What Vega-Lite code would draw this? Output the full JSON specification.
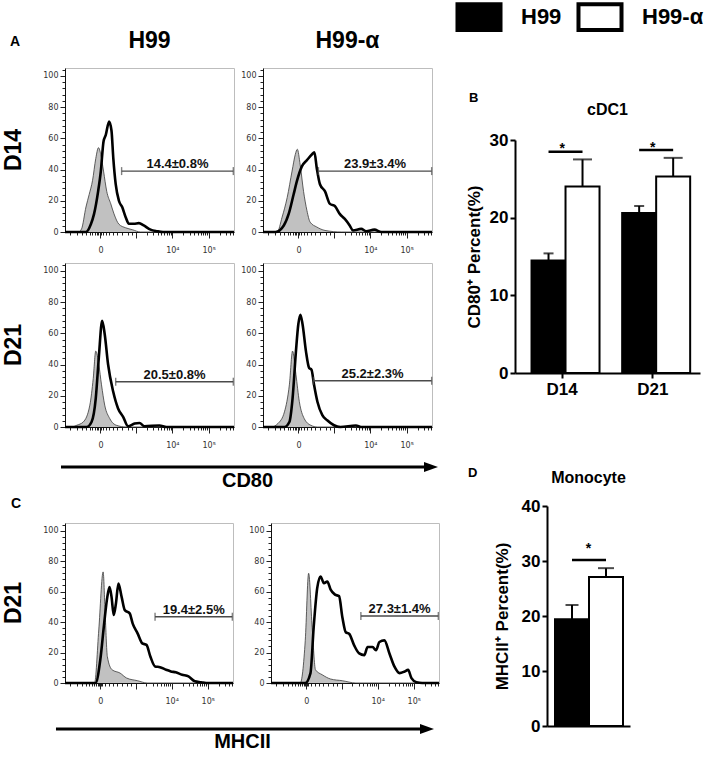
{
  "$schema": "https://vega.github.io/schema/vega-lite/v6.json",
  "padding": {"left": 2, "top": 2, "right": 2, "bottom": 0},
  "background": "white",
  "config": {
    "font": "Liberation Sans",
    "view": {"stroke": "#bdbdbd", "strokeWidth": 1},
    "axis": {"grid": false},
    "title": {"color": "black"}
  },
  "datasets": {
    "cd80": [
      {"group":"H99","day":"D14","kind":"ctrl","x":0,"y":0},{"group":"H99","day":"D14","kind":"ctrl","x":8,"y":0},{"group":"H99","day":"D14","kind":"ctrl","x":9.8,"y":2},{"group":"H99","day":"D14","kind":"ctrl","x":12.4,"y":16},{"group":"H99","day":"D14","kind":"ctrl","x":14.3,"y":24},{"group":"H99","day":"D14","kind":"ctrl","x":16.3,"y":33},{"group":"H99","day":"D14","kind":"ctrl","x":18.2,"y":47},{"group":"H99","day":"D14","kind":"ctrl","x":19.8,"y":54},{"group":"H99","day":"D14","kind":"ctrl","x":21.2,"y":49.5},{"group":"H99","day":"D14","kind":"ctrl","x":22.8,"y":39},{"group":"H99","day":"D14","kind":"ctrl","x":24.7,"y":26},{"group":"H99","day":"D14","kind":"ctrl","x":27.1,"y":18},{"group":"H99","day":"D14","kind":"ctrl","x":29,"y":11.6},{"group":"H99","day":"D14","kind":"ctrl","x":31.9,"y":5},{"group":"H99","day":"D14","kind":"ctrl","x":35.9,"y":2.7},{"group":"H99","day":"D14","kind":"ctrl","x":39.8,"y":1.5},{"group":"H99","day":"D14","kind":"ctrl","x":44.7,"y":0},{"group":"H99","day":"D14","kind":"ctrl","x":100,"y":0},
      {"group":"H99","day":"D14","kind":"samp","x":0,"y":0},{"group":"H99","day":"D14","kind":"samp","x":12.4,"y":0},{"group":"H99","day":"D14","kind":"samp","x":15.3,"y":5},{"group":"H99","day":"D14","kind":"samp","x":17.2,"y":11.6},{"group":"H99","day":"D14","kind":"samp","x":19.6,"y":26},{"group":"H99","day":"D14","kind":"samp","x":21.2,"y":39},{"group":"H99","day":"D14","kind":"samp","x":22.8,"y":58},{"group":"H99","day":"D14","kind":"samp","x":24.1,"y":62},{"group":"H99","day":"D14","kind":"samp","x":26.1,"y":70.7},{"group":"H99","day":"D14","kind":"samp","x":27.5,"y":65},{"group":"H99","day":"D14","kind":"samp","x":28.6,"y":47},{"group":"H99","day":"D14","kind":"samp","x":30,"y":30.6},{"group":"H99","day":"D14","kind":"samp","x":31.9,"y":20},{"group":"H99","day":"D14","kind":"samp","x":33.9,"y":15.8},{"group":"H99","day":"D14","kind":"samp","x":35.9,"y":9.5},{"group":"H99","day":"D14","kind":"samp","x":37.8,"y":5.3},{"group":"H99","day":"D14","kind":"samp","x":40.8,"y":5.3},{"group":"H99","day":"D14","kind":"samp","x":43.7,"y":5.7},{"group":"H99","day":"D14","kind":"samp","x":46.6,"y":4.2},{"group":"H99","day":"D14","kind":"samp","x":50.6,"y":1.5},{"group":"H99","day":"D14","kind":"samp","x":54.5,"y":0.5},{"group":"H99","day":"D14","kind":"samp","x":58,"y":0},{"group":"H99","day":"D14","kind":"samp","x":100,"y":0},
      {"group":"H99-α","day":"D14","kind":"ctrl","x":0,"y":0},{"group":"H99-α","day":"D14","kind":"ctrl","x":8.4,"y":0},{"group":"H99-α","day":"D14","kind":"ctrl","x":11.3,"y":9.5},{"group":"H99-α","day":"D14","kind":"ctrl","x":14.3,"y":22},{"group":"H99-α","day":"D14","kind":"ctrl","x":17.2,"y":39},{"group":"H99-α","day":"D14","kind":"ctrl","x":19.1,"y":49.6},{"group":"H99-α","day":"D14","kind":"ctrl","x":20.3,"y":53},{"group":"H99-α","day":"D14","kind":"ctrl","x":22,"y":43},{"group":"H99-α","day":"D14","kind":"ctrl","x":24,"y":26},{"group":"H99-α","day":"D14","kind":"ctrl","x":26,"y":13.7},{"group":"H99-α","day":"D14","kind":"ctrl","x":27.9,"y":6.3},{"group":"H99-α","day":"D14","kind":"ctrl","x":31.8,"y":3.2},{"group":"H99-α","day":"D14","kind":"ctrl","x":36.7,"y":1},{"group":"H99-α","day":"D14","kind":"ctrl","x":46.4,"y":0},{"group":"H99-α","day":"D14","kind":"ctrl","x":100,"y":0},
      {"group":"H99-α","day":"D14","kind":"samp","x":0,"y":0},{"group":"H99-α","day":"D14","kind":"samp","x":7.4,"y":0},{"group":"H99-α","day":"D14","kind":"samp","x":12.3,"y":4.2},{"group":"H99-α","day":"D14","kind":"samp","x":15.2,"y":11.6},{"group":"H99-α","day":"D14","kind":"samp","x":18.1,"y":24},{"group":"H99-α","day":"D14","kind":"samp","x":20.1,"y":32.7},{"group":"H99-α","day":"D14","kind":"samp","x":23,"y":42},{"group":"H99-α","day":"D14","kind":"samp","x":26,"y":46},{"group":"H99-α","day":"D14","kind":"samp","x":28.9,"y":49.6},{"group":"H99-α","day":"D14","kind":"samp","x":30.4,"y":51},{"group":"H99-α","day":"D14","kind":"samp","x":31.8,"y":41},{"group":"H99-α","day":"D14","kind":"samp","x":33.7,"y":30.6},{"group":"H99-α","day":"D14","kind":"samp","x":36.7,"y":26},{"group":"H99-α","day":"D14","kind":"samp","x":39.6,"y":18},{"group":"H99-α","day":"D14","kind":"samp","x":42.5,"y":16.6},{"group":"H99-α","day":"D14","kind":"samp","x":45.4,"y":11.6},{"group":"H99-α","day":"D14","kind":"samp","x":48.4,"y":8.4},{"group":"H99-α","day":"D14","kind":"samp","x":51.3,"y":4.2},{"group":"H99-α","day":"D14","kind":"samp","x":53.2,"y":1},{"group":"H99-α","day":"D14","kind":"samp","x":58.1,"y":2},{"group":"H99-α","day":"D14","kind":"samp","x":61,"y":0.5},{"group":"H99-α","day":"D14","kind":"samp","x":65.9,"y":1.5},{"group":"H99-α","day":"D14","kind":"samp","x":70,"y":0},{"group":"H99-α","day":"D14","kind":"samp","x":100,"y":0},
      {"group":"H99","day":"D21","kind":"ctrl","x":0,"y":0},{"group":"H99","day":"D21","kind":"ctrl","x":4,"y":0},{"group":"H99","day":"D21","kind":"ctrl","x":6.9,"y":1.1},{"group":"H99","day":"D21","kind":"ctrl","x":10.8,"y":3.2},{"group":"H99","day":"D21","kind":"ctrl","x":14.7,"y":14},{"group":"H99","day":"D21","kind":"ctrl","x":16.7,"y":31},{"group":"H99","day":"D21","kind":"ctrl","x":18.2,"y":48.6},{"group":"H99","day":"D21","kind":"ctrl","x":20,"y":40},{"group":"H99","day":"D21","kind":"ctrl","x":21.6,"y":27},{"group":"H99","day":"D21","kind":"ctrl","x":23.5,"y":14},{"group":"H99","day":"D21","kind":"ctrl","x":26.5,"y":5.4},{"group":"H99","day":"D21","kind":"ctrl","x":30.4,"y":1.1},{"group":"H99","day":"D21","kind":"ctrl","x":36.3,"y":0},{"group":"H99","day":"D21","kind":"ctrl","x":100,"y":0},
      {"group":"H99","day":"D21","kind":"samp","x":0,"y":0},{"group":"H99","day":"D21","kind":"samp","x":12.8,"y":0},{"group":"H99","day":"D21","kind":"samp","x":15.7,"y":3.2},{"group":"H99","day":"D21","kind":"samp","x":18.2,"y":18.4},{"group":"H99","day":"D21","kind":"samp","x":20,"y":44.3},{"group":"H99","day":"D21","kind":"samp","x":22,"y":68},{"group":"H99","day":"D21","kind":"samp","x":23.5,"y":59.4},{"group":"H99","day":"D21","kind":"samp","x":25.5,"y":40},{"group":"H99","day":"D21","kind":"samp","x":28.5,"y":22.7},{"group":"H99","day":"D21","kind":"samp","x":31.4,"y":11.9},{"group":"H99","day":"D21","kind":"samp","x":34.4,"y":6.5},{"group":"H99","day":"D21","kind":"samp","x":37.3,"y":0.5},{"group":"H99","day":"D21","kind":"samp","x":41.2,"y":2.2},{"group":"H99","day":"D21","kind":"samp","x":44.1,"y":2.6},{"group":"H99","day":"D21","kind":"samp","x":47,"y":0.5},{"group":"H99","day":"D21","kind":"samp","x":55.9,"y":1},{"group":"H99","day":"D21","kind":"samp","x":60,"y":0},{"group":"H99","day":"D21","kind":"samp","x":100,"y":0},
      {"group":"H99-α","day":"D21","kind":"ctrl","x":0,"y":0},{"group":"H99-α","day":"D21","kind":"ctrl","x":4.9,"y":0},{"group":"H99-α","day":"D21","kind":"ctrl","x":8.8,"y":2.2},{"group":"H99-α","day":"D21","kind":"ctrl","x":12.7,"y":9.7},{"group":"H99-α","day":"D21","kind":"ctrl","x":15.6,"y":27},{"group":"H99-α","day":"D21","kind":"ctrl","x":17.5,"y":48.6},{"group":"H99-α","day":"D21","kind":"ctrl","x":19.5,"y":33.5},{"group":"H99-α","day":"D21","kind":"ctrl","x":21.5,"y":16.2},{"group":"H99-α","day":"D21","kind":"ctrl","x":24.4,"y":5.4},{"group":"H99-α","day":"D21","kind":"ctrl","x":28.3,"y":1.1},{"group":"H99-α","day":"D21","kind":"ctrl","x":32.2,"y":0},{"group":"H99-α","day":"D21","kind":"ctrl","x":100,"y":0},
      {"group":"H99-α","day":"D21","kind":"samp","x":0,"y":0},{"group":"H99-α","day":"D21","kind":"samp","x":12.7,"y":0},{"group":"H99-α","day":"D21","kind":"samp","x":15.6,"y":3.2},{"group":"H99-α","day":"D21","kind":"samp","x":17.5,"y":18.4},{"group":"H99-α","day":"D21","kind":"samp","x":19.5,"y":48.6},{"group":"H99-α","day":"D21","kind":"samp","x":20.9,"y":65.8},{"group":"H99-α","day":"D21","kind":"samp","x":22.1,"y":71.9},{"group":"H99-α","day":"D21","kind":"samp","x":23.4,"y":65.8},{"group":"H99-α","day":"D21","kind":"samp","x":25.4,"y":48.6},{"group":"H99-α","day":"D21","kind":"samp","x":27.3,"y":37.8},{"group":"H99-α","day":"D21","kind":"samp","x":28.7,"y":36.7},{"group":"H99-α","day":"D21","kind":"samp","x":30.2,"y":27},{"group":"H99-α","day":"D21","kind":"samp","x":32.2,"y":16.2},{"group":"H99-α","day":"D21","kind":"samp","x":35.1,"y":7.6},{"group":"H99-α","day":"D21","kind":"samp","x":38,"y":4.3},{"group":"H99-α","day":"D21","kind":"samp","x":42,"y":1.1},{"group":"H99-α","day":"D21","kind":"samp","x":45.8,"y":0},{"group":"H99-α","day":"D21","kind":"samp","x":55,"y":1},{"group":"H99-α","day":"D21","kind":"samp","x":58,"y":0},{"group":"H99-α","day":"D21","kind":"samp","x":100,"y":0},
      {"group":"H99","day":"D14","kind":"gate","x":33.5,"x2":99.6,"y":39,"label":"14.4±0.8%"},
      {"group":"H99-α","day":"D14","kind":"gate","x":32.8,"x2":99.8,"y":39,"label":"23.9±3.4%"},
      {"group":"H99","day":"D21","kind":"gate","x":30,"x2":99.6,"y":29,"label":"20.5±0.8%"},
      {"group":"H99-α","day":"D21","kind":"gate","x":29.8,"x2":99.8,"y":29.6,"label":"25.2±2.3%"}
    ],
    "mhc": [
      {"group":"H99","day":"D21","kind":"ctrl","x":0,"y":0},{"group":"H99","day":"D21","kind":"ctrl","x":17.6,"y":0},{"group":"H99","day":"D21","kind":"ctrl","x":20.1,"y":34.8},{"group":"H99","day":"D21","kind":"ctrl","x":22.7,"y":72.9},{"group":"H99","day":"D21","kind":"ctrl","x":23.9,"y":45.7},{"group":"H99","day":"D21","kind":"ctrl","x":25.2,"y":17.4},{"group":"H99","day":"D21","kind":"ctrl","x":28,"y":8.7},{"group":"H99","day":"D21","kind":"ctrl","x":32.8,"y":6.5},{"group":"H99","day":"D21","kind":"ctrl","x":36.6,"y":3.3},{"group":"H99","day":"D21","kind":"ctrl","x":43.2,"y":1.5},{"group":"H99","day":"D21","kind":"ctrl","x":48.9,"y":0},{"group":"H99","day":"D21","kind":"ctrl","x":100,"y":0},
      {"group":"H99","day":"D21","kind":"samp","x":0,"y":0},{"group":"H99","day":"D21","kind":"samp","x":18.2,"y":0},{"group":"H99","day":"D21","kind":"samp","x":21,"y":15.2},{"group":"H99","day":"D21","kind":"samp","x":23.3,"y":39},{"group":"H99","day":"D21","kind":"samp","x":25.2,"y":56.5},{"group":"H99","day":"D21","kind":"samp","x":26.5,"y":63},{"group":"H99","day":"D21","kind":"samp","x":27.7,"y":56.5},{"group":"H99","day":"D21","kind":"samp","x":29,"y":44.6},{"group":"H99","day":"D21","kind":"samp","x":30.3,"y":52},{"group":"H99","day":"D21","kind":"samp","x":31.8,"y":65.2},{"group":"H99","day":"D21","kind":"samp","x":33.7,"y":56.5},{"group":"H99","day":"D21","kind":"samp","x":35.6,"y":47.8},{"group":"H99","day":"D21","kind":"samp","x":38.5,"y":45.7},{"group":"H99","day":"D21","kind":"samp","x":40.3,"y":39},{"group":"H99","day":"D21","kind":"samp","x":43.2,"y":32.6},{"group":"H99","day":"D21","kind":"samp","x":46,"y":26},{"group":"H99","day":"D21","kind":"samp","x":48.5,"y":25},{"group":"H99","day":"D21","kind":"samp","x":50.8,"y":17.4},{"group":"H99","day":"D21","kind":"samp","x":53.6,"y":10.9},{"group":"H99","day":"D21","kind":"samp","x":56.5,"y":10.4},{"group":"H99","day":"D21","kind":"samp","x":60.2,"y":8.7},{"group":"H99","day":"D21","kind":"samp","x":63,"y":7.6},{"group":"H99","day":"D21","kind":"samp","x":65.9,"y":7},{"group":"H99","day":"D21","kind":"samp","x":69.7,"y":5.4},{"group":"H99","day":"D21","kind":"samp","x":73.5,"y":4.3},{"group":"H99","day":"D21","kind":"samp","x":77.3,"y":1.1},{"group":"H99","day":"D21","kind":"samp","x":81,"y":0.5},{"group":"H99","day":"D21","kind":"samp","x":84,"y":0},{"group":"H99","day":"D21","kind":"samp","x":100,"y":0},
      {"group":"H99-α","day":"D21","kind":"ctrl","x":0,"y":0},{"group":"H99-α","day":"D21","kind":"ctrl","x":17.4,"y":0},{"group":"H99-α","day":"D21","kind":"ctrl","x":20.4,"y":28},{"group":"H99-α","day":"D21","kind":"ctrl","x":22.4,"y":72},{"group":"H99-α","day":"D21","kind":"ctrl","x":24.5,"y":36.5},{"group":"H99-α","day":"D21","kind":"ctrl","x":26.5,"y":8.6},{"group":"H99-α","day":"D21","kind":"ctrl","x":30.5,"y":5.4},{"group":"H99-α","day":"D21","kind":"ctrl","x":35.5,"y":2.6},{"group":"H99-α","day":"D21","kind":"ctrl","x":42.5,"y":1.5},{"group":"H99-α","day":"D21","kind":"ctrl","x":50.5,"y":0},{"group":"H99-α","day":"D21","kind":"ctrl","x":100,"y":0},
      {"group":"H99-α","day":"D21","kind":"samp","x":0,"y":0},{"group":"H99-α","day":"D21","kind":"samp","x":20.4,"y":0},{"group":"H99-α","day":"D21","kind":"samp","x":23.5,"y":6.5},{"group":"H99-α","day":"D21","kind":"samp","x":25.4,"y":36.5},{"group":"H99-α","day":"D21","kind":"samp","x":27.5,"y":62.3},{"group":"H99-α","day":"D21","kind":"samp","x":29.5,"y":69.9},{"group":"H99-α","day":"D21","kind":"samp","x":31.5,"y":65.5},{"group":"H99-α","day":"D21","kind":"samp","x":33.5,"y":66.6},{"group":"H99-α","day":"D21","kind":"samp","x":35.5,"y":61.3},{"group":"H99-α","day":"D21","kind":"samp","x":38.1,"y":58},{"group":"H99-α","day":"D21","kind":"samp","x":40.5,"y":57},{"group":"H99-α","day":"D21","kind":"samp","x":42.5,"y":43},{"group":"H99-α","day":"D21","kind":"samp","x":44.5,"y":33.3},{"group":"H99-α","day":"D21","kind":"samp","x":46.5,"y":32.3},{"group":"H99-α","day":"D21","kind":"samp","x":49.5,"y":24.7},{"group":"H99-α","day":"D21","kind":"samp","x":52.5,"y":19.4},{"group":"H99-α","day":"D21","kind":"samp","x":55.5,"y":18.3},{"group":"H99-α","day":"D21","kind":"samp","x":57.5,"y":23.6},{"group":"H99-α","day":"D21","kind":"samp","x":60.5,"y":23.6},{"group":"H99-α","day":"D21","kind":"samp","x":62.5,"y":21.5},{"group":"H99-α","day":"D21","kind":"samp","x":64.5,"y":26.9},{"group":"H99-α","day":"D21","kind":"samp","x":67.5,"y":28},{"group":"H99-α","day":"D21","kind":"samp","x":70.5,"y":19.4},{"group":"H99-α","day":"D21","kind":"samp","x":73.5,"y":10.7},{"group":"H99-α","day":"D21","kind":"samp","x":76.5,"y":6.5},{"group":"H99-α","day":"D21","kind":"samp","x":79.5,"y":7.5},{"group":"H99-α","day":"D21","kind":"samp","x":81.6,"y":8.6},{"group":"H99-α","day":"D21","kind":"samp","x":83.6,"y":3.2},{"group":"H99-α","day":"D21","kind":"samp","x":86.6,"y":0.5},{"group":"H99-α","day":"D21","kind":"samp","x":90,"y":0},{"group":"H99-α","day":"D21","kind":"samp","x":100,"y":0},
      {"group":"H99","day":"D21","kind":"gate","x":53.6,"x2":99.6,"y":43.5,"label":"19.4±2.5%"},
      {"group":"H99-α","day":"D21","kind":"gate","x":53.5,"x2":99.6,"y":44,"label":"27.3±1.4%"}
    ],
    "bBars": [
      {"day":"D14","group":"H99","value":14.5,"upper":15.4},
      {"day":"D14","group":"H99-α","value":24.0,"upper":27.5},
      {"day":"D21","group":"H99","value":20.6,"upper":21.5},
      {"day":"D21","group":"H99-α","value":25.3,"upper":27.7}
    ],
    "bSig": [
      {"day":"D14","group":"H99","y":28.5},{"day":"D14","group":"H99-α","y":28.5},
      {"day":"D21","group":"H99","y":28.7},{"day":"D21","group":"H99-α","y":28.7}
    ],
    "bStar": [
      {"day":"D14","y":28.4,"label":"*"},{"day":"D21","y":28.6,"label":"*"}
    ],
    "dBars": [
      {"cell":"Monocyte","group":"H99","value":19.4,"upper":22.0},
      {"cell":"Monocyte","group":"H99-α","value":27.1,"upper":28.7}
    ],
    "dSig": [
      {"cell":"Monocyte","group":"H99","y":30.2},{"cell":"Monocyte","group":"H99-α","y":30.2}
    ],
    "dStar": [
      {"cell":"Monocyte","y":31.4,"label":"*"}
    ],
    "arrowCD80": [{"from":0,"to":1}],
    "arrowMHC": [{"from":0,"to":1}]
  },
  "resolve": {"scale": {"fill": "independent"}, "legend": {"fill": "independent"}},
  "spacing": 19,
  "hconcat": [
    {
      "spacing": 7,
      "vconcat": [
        {
          "data": {"name": "cd80"},
          "title": {"text": "A", "anchor": "start", "fontSize": 14, "fontWeight": "bold", "offset": -19, "dx": 7, "color": "black"},
          "facet": {
            "row": {"field": "day", "type": "nominal", "sort": ["D14", "D21"], "header": {"title": null, "labelAngle": -90, "labelFont": "Liberation Sans", "labelFontSize": 23, "labelFontWeight": "bold", "labelColor": "black", "labelPadding": 5}},
            "column": {"field": "group", "type": "nominal", "sort": ["H99", "H99-α"], "header": {"title": null, "labelFont": "Liberation Sans", "labelFontSize": 23, "labelFontWeight": "bold", "labelColor": "black", "labelPadding": 12}}
          },
          "spacing": {"row": 5, "column": 0},
          "resolve": {"axis": {"x": "independent", "y": "independent"}},
          "spec": {
            "width": 169,
            "height": 164,
            "layer": [
              {
                "transform": [{"filter": "datum.kind == 'ctrl'"}],
                "mark": {"type": "area", "interpolate": "monotone", "color": "#a6a6a6", "line": {"color": "#3a3a3a", "strokeWidth": 0.8}},
                "encoding": {
                  "x": {"field": "x", "type": "quantitative", "scale": {"domain": [0, 100], "nice": false, "zero": false},
                    "axis": {"title": null, "grid": false, "tickCount": 100, "values": [3,7,10,12.5,14.5,16,17.5,18.7,19.8,20.5,21,21.5,22.2,24,26,28.5,31,34,37,39.5,42,48.5,52.3,54.9,57,58.7,60.2,61.4,62.5,63.5,70,73.8,76.4,78.5,80.2,81.7,82.9,84,85,91.5,95.3,97.9,99.5],
                      "labelExpr": "datum.value == 21 ? '0' : datum.value == 63.5 ? '10⁴' : datum.value == 85 ? '10⁵' : ''",
                      "labelOverlap": false, "labelFlush": false, "labelFont": "DejaVu Sans", "labelFontSize": 8, "labelColor": "#333", "labelPadding": 8,
                      "tickColor": "#222", "tickWidth": 1,
                      "tickSize": {"condition": {"test": "datum.value == 21 || datum.value == 42 || datum.value == 63.5 || datum.value == 85", "value": 6}, "value": 3},
                      "domainColor": "#111", "domainWidth": 1}},
                  "y": {"field": "y", "type": "quantitative", "scale": {"domain": [0, 105], "nice": false},
                    "axis": {"title": null, "grid": false, "tickCount": 100, "values": [0,4,8,12,16,20,24,28,32,36,40,44,48,52,56,60,64,68,72,76,80,84,88,92,96,100,104],
                      "labelExpr": "datum.value % 20 == 0 ? datum.label : ''",
                      "labelOverlap": false, "labelFlush": false, "labelFont": "DejaVu Sans", "labelFontSize": 8, "labelColor": "#333", "labelPadding": 2,
                      "tickColor": "#222", "tickWidth": 1,
                      "tickSize": {"condition": {"test": "datum.value % 20 == 0", "value": 5}, "value": 3},
                      "domainColor": "#111", "domainWidth": 1}}
                }
              },
              {
                "transform": [{"filter": "datum.kind == 'samp'"}],
                "mark": {"type": "line", "interpolate": "monotone", "color": "black", "strokeWidth": 2.6},
                "encoding": {"x": {"field": "x", "type": "quantitative"}, "y": {"field": "y", "type": "quantitative"}}
              },
              {
                "transform": [{"filter": "datum.kind == 'gate'"}],
                "mark": {"type": "rule", "color": "#4a4a4a", "strokeWidth": 1.4},
                "encoding": {"x": {"field": "x", "type": "quantitative"}, "x2": {"field": "x2"}, "y": {"field": "y", "type": "quantitative"}}
              },
              {
                "transform": [{"filter": "datum.kind == 'gate'"}],
                "mark": {"type": "tick", "orient": "vertical", "color": "#4a4a4a", "size": 8, "thickness": 1.4},
                "encoding": {"x": {"field": "x", "type": "quantitative"}, "y": {"field": "y", "type": "quantitative"}}
              },
              {
                "transform": [{"filter": "datum.kind == 'gate'"}],
                "mark": {"type": "tick", "orient": "vertical", "color": "#4a4a4a", "size": 8, "thickness": 1.4},
                "encoding": {"x": {"field": "x2", "type": "quantitative"}, "y": {"field": "y", "type": "quantitative"}}
              },
              {
                "transform": [
                  {"filter": "datum.kind == 'gate'"},
                  {"fold": ["x", "x2"], "as": ["end", "pos"]},
                  {"aggregate": [{"op": "mean", "field": "pos", "as": "mid"}], "groupby": ["group", "day", "label", "y"]}
                ],
                "mark": {"type": "text", "fontSize": 13, "fontWeight": "bold", "color": "#111", "baseline": "alphabetic", "dy": -3},
                "encoding": {"x": {"field": "mid", "type": "quantitative"}, "y": {"field": "y", "type": "quantitative"}, "text": {"field": "label"}}
              }
            ]
          }
        },
        {
          "data": {"name": "arrowCD80"},
          "width": 366,
          "height": 20,
          "view": {"stroke": null},
          "layer": [
            {
              "mark": {"type": "rule", "color": "black", "strokeWidth": 3},
              "encoding": {
                "x": {"field": "from", "type": "quantitative", "scale": {"domain": [0.0108, 1], "nice": false, "zero": false},
                  "axis": {"title": "CD80", "titleX": 182, "titlePadding": -7, "titleFontSize": 20, "titleFontWeight": "bold", "titleColor": "black", "domain": false, "ticks": false, "labels": false, "grid": false}},
                "x2": {"field": "to"}
              }
            },
            {
              "mark": {"type": "point", "shape": "M-1,-0.7L1,0L-1,0.7Z", "filled": true, "size": 196, "color": "black", "opacity": 1},
              "encoding": {
                "x": {"field": "to", "type": "quantitative",
                  "axis": {"title": "CD80", "titleX": 182, "titlePadding": -7, "titleFontSize": 20, "titleFontWeight": "bold", "titleColor": "black", "domain": false, "ticks": false, "labels": false, "grid": false}}
              }
            }
          ]
        },
        {
          "data": {"name": "mhc"},
          "title": {"text": "C", "anchor": "start", "fontSize": 14, "fontWeight": "bold", "offset": 9, "dx": 8, "color": "black"},
          "facet": {
            "row": {"field": "day", "type": "nominal", "header": {"title": null, "labelAngle": -90, "labelFont": "Liberation Sans", "labelFontSize": 23, "labelFontWeight": "bold", "labelColor": "black", "labelPadding": 5}},
            "column": {"field": "group", "type": "nominal", "sort": ["H99", "H99-α"], "header": {"title": null, "labels": false}}
          },
          "spacing": {"row": 2, "column": 9},
          "resolve": {"axis": {"x": "independent", "y": "independent"}},
          "spec": {
            "width": 168,
            "height": 160,
            "layer": [
              {
                "transform": [{"filter": "datum.kind == 'ctrl'"}],
                "mark": {"type": "area", "interpolate": "monotone", "color": "#a6a6a6", "line": {"color": "#3a3a3a", "strokeWidth": 0.8}},
                "encoding": {
                  "x": {"field": "x", "type": "quantitative", "scale": {"domain": [0, 100], "nice": false, "zero": false},
                    "axis": {"title": null, "grid": false, "tickCount": 100, "values": [3,7,10,12.5,14.5,16,17.5,18.7,19.8,20.5,21,21.5,22.2,24,26,28.5,31,34,37,39.5,42,48.5,52.3,54.9,57,58.7,60.2,61.4,62.5,63.5,70,73.8,76.4,78.5,80.2,81.7,82.9,84,85,91.5,95.3,97.9,99.5],
                      "labelExpr": "datum.value == 21 ? '0' : datum.value == 63.5 ? '10⁴' : datum.value == 85 ? '10⁵' : ''",
                      "labelOverlap": false, "labelFlush": false, "labelFont": "DejaVu Sans", "labelFontSize": 8, "labelColor": "#333", "labelPadding": 8,
                      "tickColor": "#222", "tickWidth": 1,
                      "tickSize": {"condition": {"test": "datum.value == 21 || datum.value == 42 || datum.value == 63.5 || datum.value == 85", "value": 6}, "value": 3},
                      "domainColor": "#111", "domainWidth": 1}},
                  "y": {"field": "y", "type": "quantitative", "scale": {"domain": [0, 105], "nice": false},
                    "axis": {"title": null, "grid": false, "tickCount": 100, "values": [0,4,8,12,16,20,24,28,32,36,40,44,48,52,56,60,64,68,72,76,80,84,88,92,96,100,104],
                      "labelExpr": "datum.value % 20 == 0 ? datum.label : ''",
                      "labelOverlap": false, "labelFlush": false, "labelFont": "DejaVu Sans", "labelFontSize": 8, "labelColor": "#333", "labelPadding": 2,
                      "tickColor": "#222", "tickWidth": 1,
                      "tickSize": {"condition": {"test": "datum.value % 20 == 0", "value": 5}, "value": 3},
                      "domainColor": "#111", "domainWidth": 1}}
                }
              },
              {
                "transform": [{"filter": "datum.kind == 'samp'"}],
                "mark": {"type": "line", "interpolate": "monotone", "color": "black", "strokeWidth": 2.6},
                "encoding": {"x": {"field": "x", "type": "quantitative"}, "y": {"field": "y", "type": "quantitative"}}
              },
              {
                "transform": [{"filter": "datum.kind == 'gate'"}],
                "mark": {"type": "rule", "color": "#4a4a4a", "strokeWidth": 1.4},
                "encoding": {"x": {"field": "x", "type": "quantitative"}, "x2": {"field": "x2"}, "y": {"field": "y", "type": "quantitative"}}
              },
              {
                "transform": [{"filter": "datum.kind == 'gate'"}],
                "mark": {"type": "tick", "orient": "vertical", "color": "#4a4a4a", "size": 8, "thickness": 1.4},
                "encoding": {"x": {"field": "x", "type": "quantitative"}, "y": {"field": "y", "type": "quantitative"}}
              },
              {
                "transform": [{"filter": "datum.kind == 'gate'"}],
                "mark": {"type": "tick", "orient": "vertical", "color": "#4a4a4a", "size": 8, "thickness": 1.4},
                "encoding": {"x": {"field": "x2", "type": "quantitative"}, "y": {"field": "y", "type": "quantitative"}}
              },
              {
                "transform": [
                  {"filter": "datum.kind == 'gate'"},
                  {"fold": ["x", "x2"], "as": ["end", "pos"]},
                  {"aggregate": [{"op": "mean", "field": "pos", "as": "mid"}], "groupby": ["group", "day", "label", "y"]}
                ],
                "mark": {"type": "text", "fontSize": 13, "fontWeight": "bold", "color": "#111", "baseline": "alphabetic", "dy": -3},
                "encoding": {"x": {"field": "mid", "type": "quantitative"}, "y": {"field": "y", "type": "quantitative"}, "text": {"field": "label"}}
              }
            ]
          }
        },
        {
          "data": {"name": "arrowMHC"},
          "width": 362,
          "height": 32,
          "view": {"stroke": null},
          "layer": [
            {
              "mark": {"type": "rule", "color": "black", "strokeWidth": 3},
              "encoding": {
                "x": {"field": "from", "type": "quantitative", "scale": {"domain": [0.0243, 1], "nice": false, "zero": false},
                  "axis": {"title": "MHCII", "titleX": 177, "titlePadding": -14, "titleFontSize": 20, "titleFontWeight": "bold", "titleColor": "black", "domain": false, "ticks": false, "labels": false, "grid": false}},
                "x2": {"field": "to"}
              }
            },
            {
              "mark": {"type": "point", "shape": "M-1,-0.7L1,0L-1,0.7Z", "filled": true, "size": 196, "color": "black", "opacity": 1},
              "encoding": {
                "x": {"field": "to", "type": "quantitative",
                  "axis": {"title": "MHCII", "titleX": 177, "titlePadding": -14, "titleFontSize": 20, "titleFontWeight": "bold", "titleColor": "black", "domain": false, "ticks": false, "labels": false, "grid": false}}
              }
            }
          ]
        }
      ]
    },
    {
      "spacing": 70,
      "resolve": {"scale": {"fill": "shared"}, "legend": {"fill": "shared"}},
      "vconcat": [
        {
          "title": {"text": "B", "anchor": "start", "fontSize": 13, "fontWeight": "bold", "offset": -37, "dx": 4, "color": "black"},
          "vconcat": [
            {
              "width": 185,
              "height": 305,
              "view": {"stroke": null},
              "title": {"text": "cDC1", "fontSize": 16, "fontWeight": "bold", "offset": -50, "color": "black"},
              "layer": [
                {
                  "data": {"name": "bBars"},
                  "mark": {"type": "bar", "stroke": "black", "strokeWidth": 2},
                  "encoding": {
                    "x": {"field": "day", "type": "nominal", "sort": ["D14", "D21"], "scale": {"paddingInner": 0.147, "paddingOuter": 0.094},
                      "axis": {"title": null, "labelAngle": 0, "labelFontSize": 17, "labelFontWeight": "bold", "labelColor": "black", "labelPadding": 3, "domainColor": "black", "domainWidth": 2, "tickColor": "black", "tickWidth": 2, "tickSize": 5}},
                    "xOffset": {"field": "group", "type": "nominal", "sort": ["H99", "H99-α"]},
                    "y": {"field": "value", "type": "quantitative", "scale": {"domain": [0, 30], "range": [305, 72], "nice": false},
                      "axis": {"title": "CD80⁺ Percent(%)", "titleFontSize": 17, "titleFontWeight": "bold", "titleColor": "black", "titlePadding": 6, "values": [0, 10, 20, 30], "labelFontSize": 17, "labelFontWeight": "bold", "labelColor": "black", "labelPadding": 2, "domainColor": "black", "domainWidth": 2, "tickColor": "black", "tickWidth": 2, "tickSize": 5, "grid": false}},
                    "fill": {"field": "group", "type": "nominal", "scale": {"domain": ["H99", "H99-α"], "range": ["black", "white"]},
                      "legend": {"orient": "none", "legendX": -51, "legendY": -66, "direction": "horizontal", "title": null, "symbolType": "M-1.667,-1H1.667V1H-1.667Z", "symbolSize": 666, "symbolStrokeColor": "black", "symbolStrokeWidth": 4, "labelFont": "Liberation Sans", "labelFontSize": 22, "labelFontWeight": "bold", "labelColor": "black", "labelOffset": 27, "columnPadding": 8, "padding": 0, "labelLimit": 300}}
                  }
                },
                {
                  "data": {"name": "bBars"},
                  "mark": {"type": "rule", "color": "black", "strokeWidth": 2},
                  "encoding": {
                    "x": {"field": "day", "type": "nominal", "sort": ["D14", "D21"]},
                    "xOffset": {"field": "group", "type": "nominal", "sort": ["H99", "H99-α"]},
                    "y": {"field": "value", "type": "quantitative"},
                    "y2": {"field": "upper"}
                  }
                },
                {
                  "data": {"name": "bBars"},
                  "transform": [{"filter": "datum.group == 'H99'"}],
                  "mark": {"type": "tick", "color": "black", "thickness": 2, "size": 10},
                  "encoding": {
                    "x": {"field": "day", "type": "nominal", "sort": ["D14", "D21"]},
                    "xOffset": {"field": "group", "type": "nominal", "sort": ["H99", "H99-α"]},
                    "y": {"field": "upper", "type": "quantitative"}
                  }
                },
                {
                  "data": {"name": "bBars"},
                  "transform": [{"filter": "datum.group == 'H99-α'"}],
                  "mark": {"type": "tick", "color": "black", "thickness": 2, "size": 19},
                  "encoding": {
                    "x": {"field": "day", "type": "nominal", "sort": ["D14", "D21"]},
                    "xOffset": {"field": "group", "type": "nominal", "sort": ["H99", "H99-α"]},
                    "y": {"field": "upper", "type": "quantitative"}
                  }
                },
                {
                  "data": {"name": "bSig"},
                  "mark": {"type": "line", "color": "black", "strokeWidth": 2.5},
                  "encoding": {
                    "x": {"field": "day", "type": "nominal", "sort": ["D14", "D21"]},
                    "xOffset": {"field": "group", "type": "nominal", "sort": ["H99", "H99-α"]},
                    "y": {"field": "y", "type": "quantitative"},
                    "detail": {"field": "day"}
                  }
                },
                {
                  "data": {"name": "bStar"},
                  "mark": {"type": "text", "fontSize": 14, "fontWeight": "bold", "baseline": "alphabetic", "dy": 1, "color": "black"},
                  "encoding": {
                    "x": {"field": "day", "type": "nominal", "sort": ["D14", "D21"]},
                    "y": {"field": "y", "type": "quantitative"},
                    "text": {"field": "label"}
                  }
                }
              ]
            }
          ]
        },
        {
          "title": {"text": "D", "anchor": "start", "fontSize": 13, "fontWeight": "bold", "offset": -10, "dx": -25, "color": "black"},
          "vconcat": [
            {
              "width": 115,
              "height": 220,
              "view": {"stroke": null},
              "title": {"text": "Monocyte", "fontSize": 16, "fontWeight": "bold", "offset": 11, "dx": 16, "color": "black"},
              "layer": [
                {
                  "data": {"name": "dBars"},
                  "mark": {"type": "bar", "stroke": "black", "strokeWidth": 2},
                  "encoding": {
                    "x": {"field": "cell", "type": "nominal", "scale": {"paddingInner": 0, "paddingOuter": 0, "range": [32, 115]},
                      "axis": {"title": null, "labels": false, "ticks": false, "domainColor": "black", "domainWidth": 2}},
                    "xOffset": {"field": "group", "type": "nominal", "sort": ["H99", "H99-α"], "scale": {"paddingInner": 0, "paddingOuter": 0, "range": [8, 76]}},
                    "y": {"field": "value", "type": "quantitative", "scale": {"domain": [0, 40], "nice": false},
                      "axis": {"title": "MHCII⁺ Percent(%)", "offset": -32, "titleFontSize": 17, "titleFontWeight": "bold", "titleColor": "black", "titlePadding": 10, "values": [0, 10, 20, 30, 40], "labelFontSize": 17, "labelFontWeight": "bold", "labelColor": "black", "labelPadding": 2, "domainColor": "black", "domainWidth": 2, "tickColor": "black", "tickWidth": 2, "tickSize": 5, "grid": false}},
                    "fill": {"field": "group", "type": "nominal", "scale": {"domain": ["H99", "H99-α"], "range": ["black", "white"]},
                      "legend": {"orient": "none", "legendX": -51, "legendY": -66, "direction": "horizontal", "title": null, "symbolType": "M-1.667,-1H1.667V1H-1.667Z", "symbolSize": 666, "symbolStrokeColor": "black", "symbolStrokeWidth": 4, "labelFont": "Liberation Sans", "labelFontSize": 22, "labelFontWeight": "bold", "labelColor": "black", "labelOffset": 27, "columnPadding": 8, "padding": 0, "labelLimit": 300}}
                  }
                },
                {
                  "data": {"name": "dBars"},
                  "mark": {"type": "rule", "color": "black", "strokeWidth": 2},
                  "encoding": {
                    "x": {"field": "cell", "type": "nominal"},
                    "xOffset": {"field": "group", "type": "nominal", "sort": ["H99", "H99-α"]},
                    "y": {"field": "value", "type": "quantitative"},
                    "y2": {"field": "upper"}
                  }
                },
                {
                  "data": {"name": "dBars"},
                  "transform": [{"filter": "datum.group == 'H99'"}],
                  "mark": {"type": "tick", "color": "black", "thickness": 2, "size": 13},
                  "encoding": {
                    "x": {"field": "cell", "type": "nominal"},
                    "xOffset": {"field": "group", "type": "nominal", "sort": ["H99", "H99-α"]},
                    "y": {"field": "upper", "type": "quantitative"}
                  }
                },
                {
                  "data": {"name": "dBars"},
                  "transform": [{"filter": "datum.group == 'H99-α'"}],
                  "mark": {"type": "tick", "color": "black", "thickness": 2, "size": 16},
                  "encoding": {
                    "x": {"field": "cell", "type": "nominal"},
                    "xOffset": {"field": "group", "type": "nominal", "sort": ["H99", "H99-α"]},
                    "y": {"field": "upper", "type": "quantitative"}
                  }
                },
                {
                  "data": {"name": "dSig"},
                  "mark": {"type": "line", "color": "black", "strokeWidth": 2.5},
                  "encoding": {
                    "x": {"field": "cell", "type": "nominal"},
                    "xOffset": {"field": "group", "type": "nominal", "sort": ["H99", "H99-α"]},
                    "y": {"field": "y", "type": "quantitative"},
                    "detail": {"field": "cell"}
                  }
                },
                {
                  "data": {"name": "dStar"},
                  "mark": {"type": "text", "fontSize": 14, "fontWeight": "bold", "baseline": "alphabetic", "color": "black"},
                  "encoding": {
                    "x": {"field": "cell", "type": "nominal"},
                    "y": {"field": "y", "type": "quantitative"},
                    "text": {"field": "label"}
                  }
                }
              ]
            }
          ]
        }
      ]
    }
  ]
}
